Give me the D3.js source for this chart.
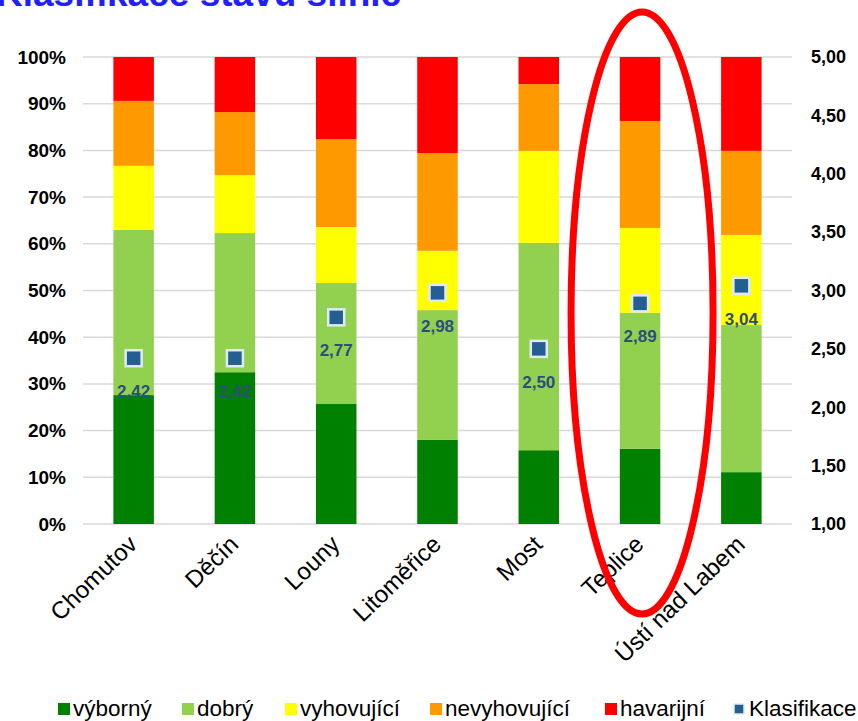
<!DOCTYPE html>
<html>
<head>
<meta charset="utf-8">
<script src="https://cdn.jsdelivr.net/npm/d3@7"></script>
<style>
  body { margin: 0; background: #fff; }
  svg { display: block; }
</style>
</head>
<body>
<div id="chart"></div>
<script>
// hodnoty (podíl v %)
var okresy = ["Chomutov", "Děčín", "Louny", "Litoměřice", "Most", "Teplice", "Ústí nad Labem"];
var vyborny = [27.6, 32.5, 25.7, 18.0, 15.8, 16.1, 11.1];
var dobry = [35.4, 29.8, 25.9, 27.8, 44.4, 29.1, 31.5];
var vyhovujici = [13.7, 12.4, 12.0, 12.7, 19.7, 18.2, 19.3];
var nevyhovujici = [13.9, 13.5, 18.8, 20.9, 14.3, 22.9, 18.0];
var havarijni = [9.4, 11.8, 17.6, 20.6, 5.8, 13.7, 20.1];
var klasifikace = [2.42, 2.42, 2.77, 2.98, 2.50, 2.89, 3.04];

var serie = ["výborný", "dobrý", "vyhovující", "nevyhovující", "havarijní"];
var barvy = ["#008000", "#92D050", "#FFFF00", "#FF9900", "#FF0000"];
var leftTicks = [0, 10, 20, 30, 40, 50, 60, 70, 80, 90, 100];
var rightTicks = [1, 1.5, 2, 2.5, 3, 3.5, 4, 4.5, 5];

var W = 858, H = 721;
var margin = {top: 57, left: 83, right: 66, bottom: 197};
var plotW = W - margin.left - margin.right,
    plotH = H - margin.top - margin.bottom;

var rows = okresy.map(function(o, i) {
  return {okres: o, "výborný": vyborny[i], "dobrý": dobry[i], "vyhovující": vyhovujici[i],
          "nevyhovující": nevyhovujici[i], "havarijní": havarijni[i], klas: klasifikace[i]};
});

var svg = d3.select('#chart').append('svg')
  .attr('width', W)
  .attr('height', H);

// titulek (nahoře oříznutý)
svg.append('text')
  .attr('x', -4)
  .attr('y', 6)
  .attr('fill', '#1F1FFF')
  .style('font', 'bold 37px "Liberation Sans", Arial, sans-serif')
  .text('Klasifikace stavu silnic');

var g = svg.append('g')
  .attr('transform', 'translate(' + margin.left + ',' + margin.top + ')');

var x = d3.scaleBand().domain(okresy).range([0, plotW]).paddingInner(0.6).paddingOuter(0.3);
var y = d3.scaleLinear().domain([0, 100]).range([plotH, 0]);
var y2 = d3.scaleLinear().domain([1, 5]).range([plotH, 0]);

// mřížka
g.append('g').selectAll('line')
  .data(leftTicks)
  .enter().append('line')
  .attr('x1', 0).attr('x2', plotW)
  .attr('y1', function(d) { return y(d); })
  .attr('y2', function(d) { return y(d); })
  .attr('stroke', '#d9d9d9')
  .attr('stroke-width', 1.5);

// levá osa
var axL = g.append('g')
  .call(d3.axisLeft(y).tickValues(leftTicks).tickSize(0).tickPadding(17)
    .tickFormat(function(d) { return d + '%'; }));
axL.select('.domain').remove();
axL.selectAll('text')
  .attr('fill', '#000')
  .style('font', 'bold 19px "Liberation Sans", Arial, sans-serif');

// pravá osa
var axR = g.append('g')
  .attr('transform', 'translate(' + plotW + ',0)')
  .call(d3.axisRight(y2).tickValues(rightTicks).tickSize(0).tickPadding(19)
    .tickFormat(function(d) { return d3.format('.2f')(d).replace('.', ','); }));
axR.select('.domain').remove();
axR.selectAll('text')
  .attr('fill', '#000')
  .style('font', 'bold 18px "Liberation Sans", Arial, sans-serif');

// skládané sloupce
var stack = d3.stack().keys(serie)(rows);
g.selectAll('.serie')
  .data(stack)
  .enter().append('g')
  .attr('class', 'serie')
  .attr('fill', function(d, i) { return barvy[i]; })
  .selectAll('rect')
  .data(function(d) { return d; })
  .enter().append('rect')
  .attr('x', function(d) { return x(d.data.okres); })
  .attr('y', function(d) { return y(d[1]); })
  .attr('width', x.bandwidth())
  .attr('height', function(d) { return y(d[0]) - y(d[1]); });

// popisky osy x
g.append('g').selectAll('text')
  .data(okresy)
  .enter().append('text')
  .attr('transform', function(d) {
    return 'translate(' + (x(d) + x.bandwidth() / 2 + 5) + ',' + (plotH + 22) + ') rotate(-44)';
  })
  .attr('text-anchor', 'end')
  .attr('fill', '#000')
  .style('font', '24px "Liberation Sans", Arial, sans-serif')
  .text(function(d) { return d; });

// klasifikace - body
var ms = 16;
g.append('g').selectAll('rect')
  .data(rows)
  .enter().append('rect')
  .attr('x', function(d) { return x(d.okres) + x.bandwidth() / 2 - ms / 2; })
  .attr('y', function(d) { return y2(d.klas) - ms / 2; })
  .attr('width', ms).attr('height', ms)
  .attr('fill', '#255E91')
  .attr('stroke', '#DEEBF7')
  .attr('stroke-width', 2.5);

g.append('g').selectAll('text')
  .data(rows)
  .enter().append('text')
  .attr('x', function(d) { return x(d.okres) + x.bandwidth() / 2; })
  .attr('y', function(d) { return y2(d.klas) + 39; })
  .attr('text-anchor', 'middle')
  .attr('fill', '#2A4F7F')
  .style('font', 'bold 17px "Liberation Sans", Arial, sans-serif')
  .text(function(d) { return d3.format('.2f')(d.klas).replace('.', ','); });

// červená elipsa kolem Teplic
var tep = x('Teplice') + x.bandwidth() / 2;
g.append('ellipse')
  .attr('cx', tep + 2)
  .attr('cy', 313 - margin.top)
  .attr('rx', 71)
  .attr('ry', 301)
  .attr('fill', 'none')
  .attr('stroke', '#FF0000')
  .attr('stroke-width', 7);

// legenda
var legItems = serie.concat(['Klasifikace']);
var legX = [58, 182, 285, 430, 605, 734];
var leg = svg.append('g').selectAll('g')
  .data(legItems)
  .enter().append('g')
  .attr('transform', function(d, i) { return 'translate(' + legX[i] + ',703)'; });
leg.append('rect')
  .attr('width', function(d, i) { return i < 5 ? 12 : 10; })
  .attr('height', function(d, i) { return i < 5 ? 12 : 10; })
  .attr('y', function(d, i) { return i < 5 ? 0 : 1; })
  .attr('fill', function(d, i) { return i < 5 ? barvy[i] : '#255E91'; })
  .attr('stroke', function(d, i) { return i < 5 ? 'none' : '#DEEBF7'; })
  .attr('stroke-width', 1.5);
leg.append('text')
  .attr('x', 15)
  .attr('y', 13)
  .attr('fill', '#000')
  .style('font', '22.5px "Liberation Sans", Arial, sans-serif')
  .text(function(d) { return d; });
</script>
</body>
</html>
